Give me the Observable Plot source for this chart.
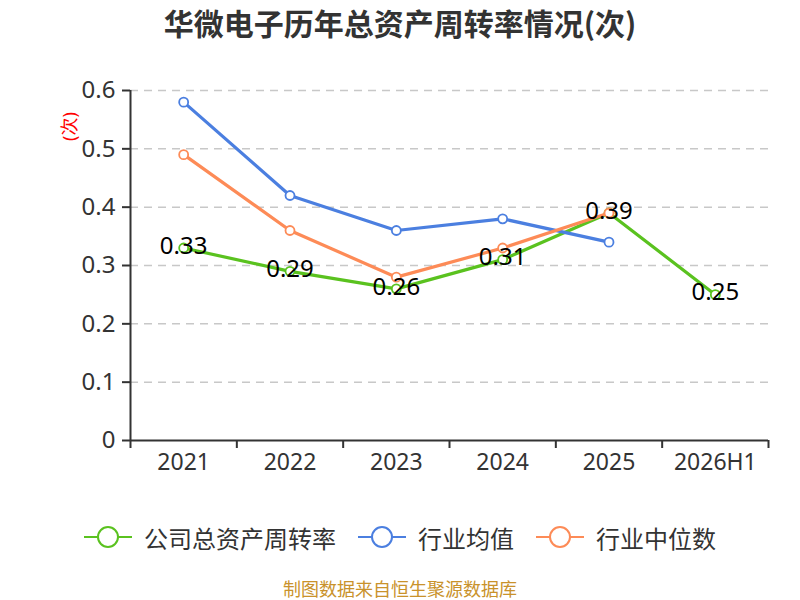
<!DOCTYPE html>
<html>
<head>
<meta charset="utf-8">
<script src="https://cdn.jsdelivr.net/npm/d3@7"></script>
<script src="https://cdn.jsdelivr.net/npm/@observablehq/plot@0.6"></script>
<style>
  body { margin: 0; background: #fff; font-family: "Noto Sans", "Noto Sans CJK SC", sans-serif; }
  #wrap { position: relative; width: 800px; height: 600px; overflow: hidden; }
  #title { position: absolute; left: 0; top: 3px; width: 800px; text-align: center; font-size: 30px; font-weight: bold; color: #333; font-family: "Noto Sans CJK SC", sans-serif; line-height: 38px; }
  #chart { position: absolute; left: 0; top: 60px; }
  #legend { position: absolute; left: 0; top: 519px; width: 800px; height: 36px; display: flex; justify-content: center; align-items: center; font-family: "Noto Sans CJK SC", sans-serif; font-size: 24px; color: #333; }
  .item { display: flex; align-items: center; margin: 0 11px; }
  .item svg { margin-right: 12px; }
  #footer { position: absolute; left: 0; top: 577px; width: 800px; text-align: center; font-family: "Noto Sans CJK SC", sans-serif; font-size: 18px; color: #c9922b; line-height: 22px; }
</style>
</head>
<body>
<div id="wrap">
  <div id="title">华微电子历年总资产周转率情况(次)</div>
  <div id="chart"></div>
  <div id="legend"></div>
  <div id="footer">制图数据来自恒生聚源数据库</div>
</div>
<script>
const categories = ["2021", "2022", "2023", "2024", "2025", "2026H1"];
const company = [0.33, 0.29, 0.26, 0.31, 0.39, 0.25];
const industryMean = [0.58, 0.42, 0.36, 0.38, 0.34];
const industryMedian = [0.49, 0.36, 0.28, 0.33, 0.39];
const yTicks = [0, 0.1, 0.2, 0.3, 0.4, 0.5, 0.6];
const seriesNames = ["公司总资产周转率", "行业均值", "行业中位数"];
const seriesColors = ["#5ac21f", "#4b7fe0", "#fd8b57"];

const seriesValues = [company, industryMean, industryMedian];
const tables = seriesValues.map(vals => vals.map((v, i) => ({x: i + 0.5, y: v, label: v.toFixed(2)})));

const marks = [
  Plot.ruleY(yTicks.slice(1), {stroke: "#c8c8c8", strokeWidth: 1.5, strokeDasharray: "8,6"}),
  Plot.ruleX([0], {y1: 0, y2: 0.6, stroke: "#333", strokeWidth: 2}),
  Plot.ruleY([0], {x1: 0, x2: 6, stroke: "#333", strokeWidth: 2}),
  Plot.axisY({ticks: yTicks, tickSize: 8, tickPadding: 7, fontSize: 24, strokeWidth: 2, tickFormat: d => d === 0 ? "0" : d.toFixed(1), label: null}),
  Plot.axisX({ticks: d3.range(categories.length + 1), tickSize: 8, strokeWidth: 2, tickFormat: () => "", label: null}),
  Plot.axisX({ticks: categories.map((_, i) => i + 0.5), tickSize: 0, tickPadding: 13, fontSize: 23, tickFormat: v => categories[Math.floor(v)], label: null}),
  Plot.text(["(次)"], {frameAnchor: "top-left", dx: -60, dy: 36, rotate: -90, fill: "red", fontSize: 18, textAnchor: "middle", lineAnchor: "middle", text: d => d})
];
tables.forEach((t, k) => {
  marks.push(Plot.line(t, {x: "x", y: "y", stroke: seriesColors[k], strokeWidth: 3.2}));
  marks.push(Plot.dot(t, {x: "x", y: "y", r: 4.5, fill: "white", stroke: seriesColors[k], strokeWidth: 1.8}));
});
marks.push(Plot.text(tables[0], {x: "x", y: "y", text: "label", fill: "black", fontSize: 24, dy: -2, lineAnchor: "middle"}));

const chart = Plot.plot({
  width: 800,
  height: 430,
  marginLeft: 130,
  marginRight: 32,
  marginTop: 30,
  marginBottom: 50,
  style: {color: "#333", fontFamily: "'Noto Sans', 'Noto Sans CJK SC', sans-serif", background: "transparent"},
  x: {type: "linear", domain: [0, 6], axis: null},
  y: {type: "linear", domain: [0, 0.6], axis: null},
  marks
});
document.getElementById("chart").appendChild(chart);

const legend = document.getElementById("legend");
seriesNames.forEach((name, k) => {
  const item = document.createElement("div");
  item.className = "item";
  item.innerHTML = `<svg width="48" height="24"><line x1="0" y1="12" x2="48" y2="12" stroke="${seriesColors[k]}" stroke-width="2"/><circle cx="24" cy="12" r="10" fill="white" stroke="${seriesColors[k]}" stroke-width="2"/></svg><span>${name}</span>`;
  legend.appendChild(item);
});
</script>
</body>
</html>
